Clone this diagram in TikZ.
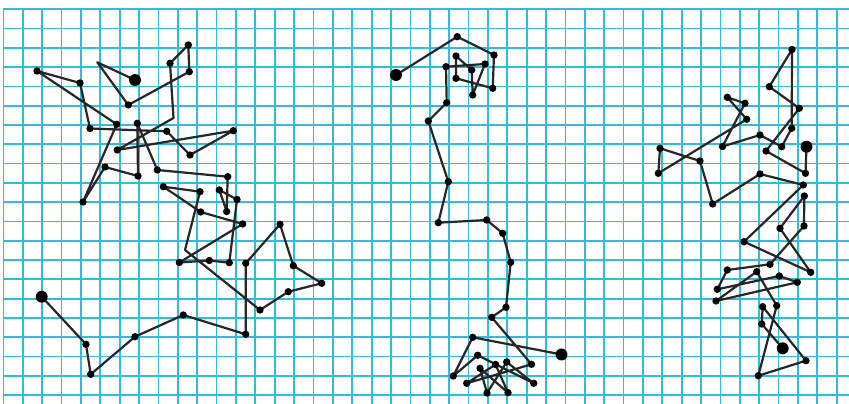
\documentclass[tikz,border=0pt]{standalone}
\definecolor{cuadricula}{RGB}{50,188,218}
\begin{document}
\begin{tikzpicture}[x=0.02cm, y=-0.02cm,
    camino/.style={line width=1.25pt, black!85, line join=round},
    rejilla/.style={cuadricula, line width=1pt}]
    \useasboundingbox (0,0) rectangle (849,404);
    \fill[white] (0,0) rectangle (849,404);
    % Papel cuadriculado
    \foreach \k in {0,...,43}
        \draw[rejilla] ({3.4+19.38*\k},9.3) -- ({3.4+19.38*\k},404);
    \foreach \k in {0,...,20}
        \draw[rejilla] (3.4,{9.3+19.29*\k}) -- (849,{9.3+19.29*\k});
    % Camino de la izquierda
    \draw[camino] (135,80) -- (97.3,62.3) -- (128.3,105) -- (189.3,71.7) -- (188.3,45)
        -- (170,63.3) -- (173.5,118) -- (117.3,150) -- (233.3,130.7) -- (190,155)
        -- (166.7,131.3) -- (90,128.5) -- (80,83) -- (37,71) -- (116.7,124.3)
        -- (83,202) -- (105,167) -- (138,176) -- (137.3,123.3) -- (157.3,170)
        -- (227.7,176.7) -- (226.7,211.5) -- (219.3,190) -- (237,199.5) -- (229.3,262.7)
        -- (209.3,260.5) -- (179.3,262.5) -- (242.7,224) -- (200.7,212) -- (163.3,186.7)
        -- (200,191.7) -- (185,250) -- (260,310) -- (288.3,291.7) -- (321.7,283.3)
        -- (293.3,265.7) -- (280,224.3) -- (245.7,263.3) -- (245.7,334.3) -- (183.3,315)
        -- (135,336.7) -- (90.7,374.3) -- (86,344.3) -- (41.7,296.7);
    \foreach \x/\y in {128.3/105, 189.3/71.7, 188.3/45, 170/63.3, 117.3/150, 233.3/130.7,
        190/155, 166.7/131.3, 90/128.5, 80/83, 37/71, 116.7/124.3, 83/202, 105/167,
        138/176, 137.3/123.3, 157.3/170, 227.7/176.7, 226.7/211.5, 219.3/190, 237/199.5,
        229.3/262.7, 209.3/260.5, 179.3/262.5, 242.7/224, 200.7/212, 163.3/186.7,
        200/191.7, 260/310, 288.3/291.7, 321.7/283.3, 293.3/265.7, 280/224.3,
        245.7/263.3, 245.7/334.3, 183.3/315, 135/336.7, 90.7/374.3, 86/344.3}
        \fill (\x,\y) circle (2.1pt);
    \fill (135,80) circle (3.4pt);
    \fill (41.7,296.7) circle (3.4pt);
    % Camino del centro
    \draw[camino] (396,75) -- (457.3,36.7) -- (494,55) -- (492.7,88.3) -- (456,78.3)
        -- (456,56) -- (471.7,70) -- (472.7,95) -- (485,64) -- (446,66.7) -- (446.7,102.7)
        -- (428.3,121) -- (448.3,181.7) -- (438.3,222.7) -- (486.7,220) -- (502.7,233.3)
        -- (510.7,262.3) -- (506,307.3) -- (491.7,317.3) -- (531.5,364.3) -- (466.7,383.3)
        -- (495.5,364.5) -- (508,392.7) -- (480,368.3) -- (487,393) -- (506.7,362)
        -- (533.7,383.3) -- (477.7,355.3) -- (453.3,376) -- (472.7,337.3) -- (561.5,354.5);
    \foreach \x/\y in {457.3/36.7, 494/55, 492.7/88.3, 456/78.3, 456/56, 471.7/70,
        472.7/95, 485/64, 446/66.7, 446.7/102.7, 428.3/121, 448.3/181.7, 438.3/222.7,
        486.7/220, 502.7/233.3, 510.7/262.3, 506/307.3, 491.7/317.3, 531.5/364.3,
        466.7/383.3, 495.5/364.5, 508/392.7, 480/368.3, 487/393, 506.7/362,
        533.7/383.3, 477.7/355.3, 453.3/376, 472.7/337.3}
        \fill (\x,\y) circle (2.1pt);
    \fill (396,75) circle (3.4pt);
    \fill (561.5,354.5) circle (3.4pt);
    % Camino de la derecha
    \draw[camino] (806.5,146.7) -- (805.5,173.3) -- (766,151) -- (799.3,108.3) -- (769.3,86.7)
        -- (792,49.5) -- (791.7,128.3) -- (781.7,146.7) -- (760,135) -- (722.5,146.5)
        -- (745,103.3) -- (727.3,97.3) -- (746.7,119.3) -- (658.3,173.3) -- (660,148.3)
        -- (700,161) -- (712.7,204) -- (760,174) -- (803.3,185) -- (744,241.7)
        -- (810.7,272.3) -- (780,228.3) -- (804.3,196) -- (804,226) -- (770,264.3)
        -- (727.3,270) -- (717.3,289.3) -- (779.3,276) -- (797.3,282.3) -- (716,301)
        -- (756.7,271.7) -- (776.7,305.7) -- (758.3,375.7) -- (806,360.7) -- (762.7,306.7)
        -- (761.7,324) -- (782.7,348.3);
    \foreach \x/\y in {805.5/173.3, 766/151, 799.3/108.3, 769.3/86.7, 792/49.5,
        791.7/128.3, 781.7/146.7, 760/135, 722.5/146.5, 745/103.3, 727.3/97.3,
        746.7/119.3, 658.3/173.3, 660/148.3, 700/161, 712.7/204, 760/174, 803.3/185,
        744/241.7, 810.7/272.3, 780/228.3, 804.3/196, 804/226, 770/264.3, 727.3/270,
        717.3/289.3, 779.3/276, 797.3/282.3, 716/301, 756.7/271.7, 776.7/305.7,
        758.3/375.7, 806/360.7, 762.7/306.7, 761.7/324}
        \fill (\x,\y) circle (2.1pt);
    \fill (806.5,146.7) circle (3.4pt);
    \fill (782.7,348.3) circle (3.4pt);
\end{tikzpicture}
\end{document}
